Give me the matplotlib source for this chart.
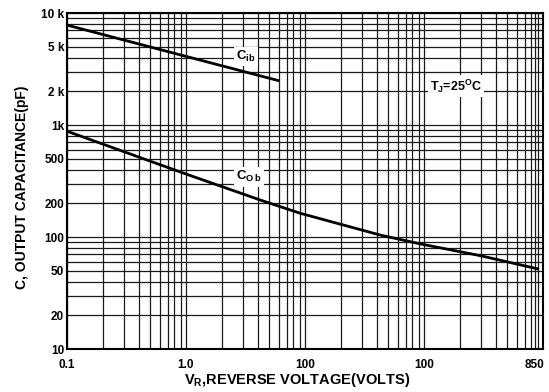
import matplotlib
matplotlib.use("Agg")
import matplotlib.pyplot as plt
import numpy as np

# Data
cib_v = [0.1, 1.0, 5.9]
cib_pf = [7800, 4100, 2500]
cob_v = [0.1, 1.0, 4.2, 9.1, 43, 92, 300, 900]
cob_pf = [880, 365, 214, 163, 104, 87, 68, 52]

x_ticks = [0.1, 1.0, 10, 100, 850]
x_labels = ["0.1", "1.0", "100", "100", "850"]
y_ticks = [10, 20, 50, 100, 200, 500, 1000, 2000, 5000, 10000]
y_labels = ["10", "20", "50", "100", "200", "500", "1k", "2 k", "5 k", "10 k"]

plt.rcParams['font.family'] = ['Liberation Sans', 'DejaVu Sans']

fig = plt.figure(figsize=(5.49, 3.92), dpi=100)
ax = fig.add_axes([67/549, 1-349/392, (543-67)/549, (349-13)/392])
ax.set_xscale('log')
ax.set_yscale('log')
ax.set_xlim(0.1, 1000)
ax.set_ylim(10, 10000)

ax.grid(True, which='both', color='#1a1a1a', lw=0.9)
ax.set_axisbelow(True)

ax.plot(cib_v, cib_pf, color='black', lw=2.0, zorder=3)
ax.plot(cob_v, cob_pf, color='black', lw=2.0, zorder=3)

ax.set_xticks(x_ticks)
ax.set_xticklabels(x_labels)
ax.set_yticks(y_ticks)
ax.set_yticklabels(y_labels)
ax.xaxis.set_minor_formatter(matplotlib.ticker.NullFormatter())
ax.yaxis.set_minor_formatter(matplotlib.ticker.NullFormatter())
ax.tick_params(which='both', length=0, labelsize=8.5)
ax.tick_params(axis='x', pad=7)
ax.tick_params(axis='y', pad=2)
for lab in ax.get_xticklabels() + ax.get_yticklabels():
    lab.set_fontweight('bold')

for s in ax.spines.values():
    s.set_linewidth(1.5)

box = dict(facecolor='white', edgecolor='none', pad=1.5)
ax.text(3.2, 4100, r"C$_{\mathregular{ib}}$", fontsize=9.5, fontweight='bold',
        ha='center', va='center', bbox=box, zorder=4)
ax.text(3.4, 344, r"C$_{\mathregular{O\,b}}$", fontsize=9.5, fontweight='bold',
        ha='center', va='center', bbox=box, zorder=4)
ax.text(186, 2230, r"T$_{\mathregular{J}}$=25$^{\mathregular{O}}$C", fontsize=9,
        fontweight='bold', ha='center', va='center', bbox=box, zorder=4)

fig.text(297/549, 1-380/392, r"V$_{\mathregular{R}}$,REVERSE VOLTAGE(VOLTS)",
         fontsize=10.5, fontweight='bold', ha='center', va='center')
fig.text(22/549, 1-187/392, "C, OUTPUT CAPACITANCE(pF)", rotation=90,
         fontsize=10, fontweight='bold', ha='center', va='center')

fig.savefig("out.png", dpi=100)
